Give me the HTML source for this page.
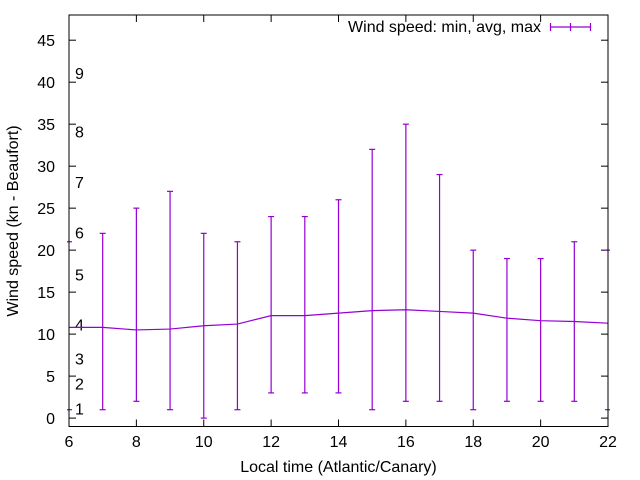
<!DOCTYPE html>
<html><head><meta charset="utf-8"><style>
body{margin:0;background:#fff}
svg{display:block;font-family:"Liberation Sans",sans-serif;font-size:16px}
</style></head><body>
<svg id="chart" width="640" height="480" viewBox="0 0 640 480" xmlns="http://www.w3.org/2000/svg">
<rect x="0" y="0" width="640" height="480" fill="#fff"/>
<g id="grid"></g>
<g id="series"></g>
<rect x="69" y="15" width="539" height="411.5" fill="none" stroke="#000" stroke-width="1"/>
<text x="338.5" y="472" text-anchor="middle">Local time (Atlantic/Canary)</text>
<text transform="translate(18,221) rotate(-90)" text-anchor="middle">Wind speed (kn - Beaufort)</text>
<g>
<text x="541" y="32" text-anchor="end">Wind speed: min, avg, max</text>
<line x1="550" y1="27" x2="591" y2="27" stroke="#9400d3" stroke-width="1.2"/>
<line x1="550.5" y1="23" x2="550.5" y2="31" stroke="#9400d3" stroke-width="1.2"/>
<line x1="570.5" y1="23" x2="570.5" y2="31" stroke="#9400d3" stroke-width="1.2"/>
<line x1="590.5" y1="23" x2="590.5" y2="31" stroke="#9400d3" stroke-width="1.2"/>
</g>
</svg>
<script>
const hours=[6,7,8,9,10,11,12,13,14,15,16,17,18,19,20,21,22];
const minVals=[1,1,2,1,0,1,3,3,3,1,2,2,1,2,2,2,1];
const avgVals=[10.8,10.8,10.5,10.6,11,11.2,12.2,12.2,12.5,12.8,12.9,12.7,12.5,11.9,11.6,11.5,11.3];
const maxVals=[21,22,25,27,22,21,24,24,26,32,35,29,20,19,19,21,20];
const xTicks=[6,8,10,12,14,16,18,20,22];
const yTicks=[0,5,10,15,20,25,30,35,40,45];
const beaufortLabels=["1","2","3","4","5","6","7","8","9"];
const beaufortKnots=[1,4,7,11,17,22,28,34,41];
const X0=69,X1=608,Y0=426.5,Y1=15,xmin=6,xmax=22,ymin=-1,ymax=48;
const sx=v=>X0+(v-xmin)/(xmax-xmin)*(X1-X0);
const sy=v=>Y0-(v-ymin)/(ymax-ymin)*(Y0-Y1);
const NS="http://www.w3.org/2000/svg";
function mk(tag,attrs,parent){const e=document.createElementNS(NS,tag);for(const k in attrs)e.setAttribute(k,attrs[k]);parent.appendChild(e);return e;}
const g=document.getElementById('grid'),s=document.getElementById('series');
xTicks.forEach(t=>{const x=sx(t);
 let l=mk('line',{x1:x,x2:x,y1:Y0,y2:Y0-7,stroke:'#000','stroke-width':1},g);
 
 
 let l2=mk('line',{x1:x,x2:x,y1:Y1,y2:Y1+7,stroke:'#000','stroke-width':1},g);
 
 
 let tx=mk('text',{x:x,y:447,'text-anchor':'middle'},g);tx.textContent=t;
 
 
});
yTicks.forEach(t=>{const y=sy(t);
 let l=mk('line',{x1:X0,x2:X0+7,y1:y,y2:y,stroke:'#000','stroke-width':1},g);
 
 
 let l2=mk('line',{x1:X1,x2:X1-7,y1:y,y2:y,stroke:'#000','stroke-width':1},g);
 
 
 let tx=mk('text',{x:55,y:y+6,'text-anchor':'end'},g);tx.textContent=t;
 
 
});
beaufortLabels.forEach((b,i)=>{
 let tx=mk('text',{x:75,y:sy(beaufortKnots[i])+5},g);tx.textContent=b;
 
 
});
const col='#9400d3';
let pts=hours.map((h,i)=>sx(h)+','+sy(avgVals[i])).join(' ');
let pl=mk('polyline',{points:pts,fill:'none',stroke:col,'stroke-width':1.2},s);


hours.forEach((h,i)=>{const x=sx(h);
 const eg=mk('g',{},s);
 
 
 const edge=(x<=X0+0.5||x>=X1-0.5);
 if(!edge) mk('line',{x1:x,x2:x,y1:sy(minVals[i]),y2:sy(maxVals[i]),stroke:col,'stroke-width':1.2},eg);
 [minVals[i],maxVals[i]].forEach(v=>{const x1=Math.max(X0-2,x-3),x2=Math.min(X1+2,x+3);
  mk('line',{x1:x1,x2:x2,y1:sy(v),y2:sy(v),stroke:col,'stroke-width':1.2},eg);});
});
</script>
</body></html>
